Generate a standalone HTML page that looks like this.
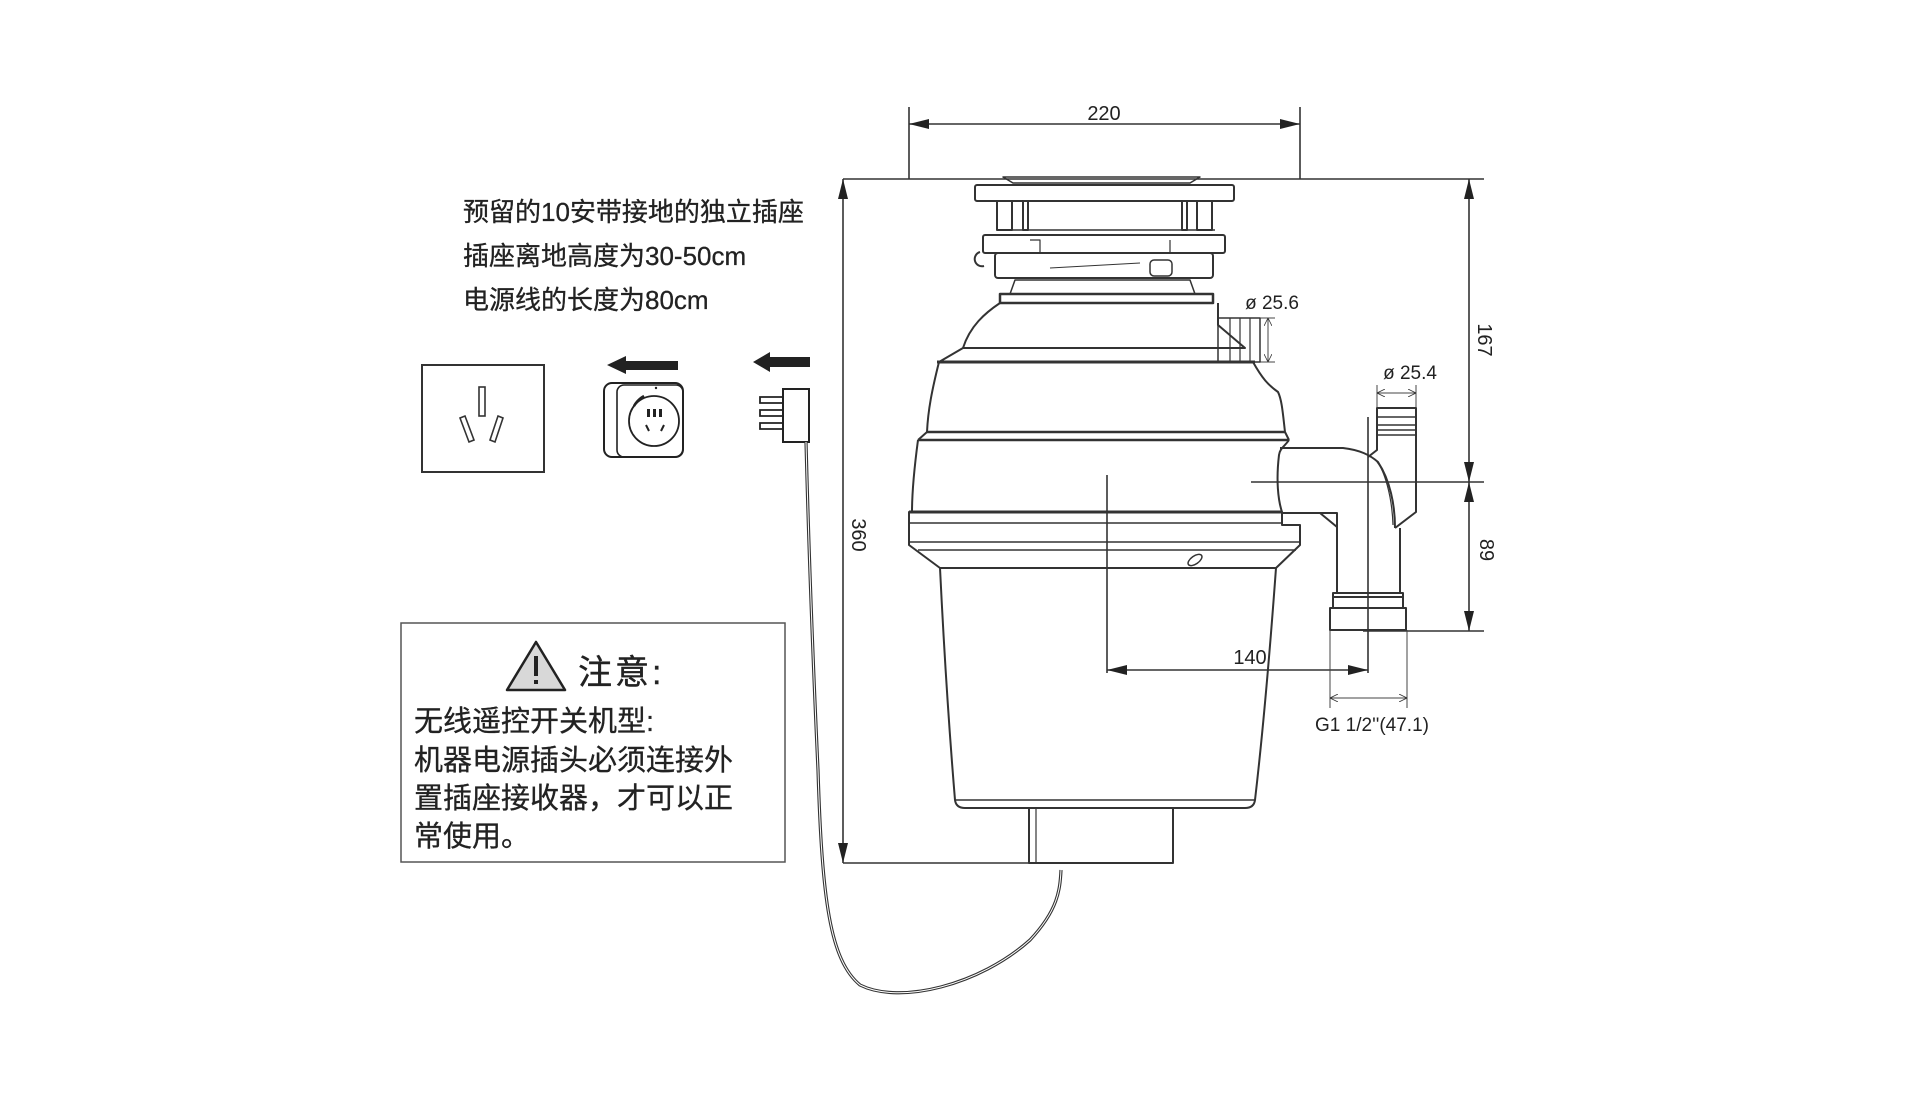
<!DOCTYPE html>
<html><head><meta charset="utf-8">
<style>
html,body{margin:0;padding:0;background:#fff;}
body{width:1920px;height:1094px;overflow:hidden;}
svg{display:block;}
.t{font-family:"Liberation Sans","Noto Sans CJK SC",sans-serif;fill:#222;}
</style></head>
<body>
<svg width="1920" height="1094" viewBox="0 0 1920 1094" xmlns="http://www.w3.org/2000/svg">
<defs>
<marker id="ar" viewBox="0 0 20 10" refX="20" refY="5" markerWidth="20" markerHeight="10" markerUnits="userSpaceOnUse" orient="auto-start-reverse">
<path d="M0,0 L20,5 L0,10 Z" fill="#222"/></marker>
<marker id="sa" viewBox="0 0 10 10" refX="10" refY="5" markerWidth="8" markerHeight="8" markerUnits="userSpaceOnUse" orient="auto-start-reverse">
<path d="M0,0 L10,5 L0,10" fill="none" stroke="#333" stroke-width="1"/></marker>
</defs>

<!-- Top-left text -->
<text class="t" x="463" y="221" font-size="26" stroke="#222" stroke-width="0.3">预留的10安带接地的独立插座</text>
<text class="t" x="463" y="265" font-size="26" stroke="#222" stroke-width="0.3">插座离地高度为30-50cm</text>
<text class="t" x="463" y="309" font-size="26" stroke="#222" stroke-width="0.3">电源线的长度为80cm</text>

<!-- socket -->
<rect x="422" y="365" width="122" height="107" fill="none" stroke="#333" stroke-width="2"/>
<rect x="479" y="387" width="6" height="29" fill="none" stroke="#333" stroke-width="1.6"/>
<path d="M460,418 l5,-2 l9,24 l-5,2 Z M498,416 l5,2 l-8,24 l-5,-2 Z" fill="none" stroke="#333" stroke-width="1.6"/>

<!-- arrows -->
<path d="M607,365 L626,356 L626,361 L678,361 L678,370 L626,370 L626,374 Z" fill="#222"/>
<path d="M753,362 L770,352 L770,357 L810,357 L810,367 L770,367 L770,372 Z" fill="#222"/>

<!-- smart plug -->
<rect x="604" y="383" width="79" height="74" rx="8" fill="none" stroke="#222" stroke-width="2"/>
<rect x="617" y="385" width="66" height="72" rx="7" fill="none" stroke="#222" stroke-width="1.6"/>
<circle cx="654" cy="421" r="25" fill="none" stroke="#222" stroke-width="1.8"/>
<path d="M634,406 A26,26 0 0 1 644,396" fill="none" stroke="#222" stroke-width="2.5"/>
<rect x="647" y="409" width="3" height="8" fill="#222"/><rect x="653" y="409" width="3" height="8" fill="#222"/><rect x="659" y="409" width="3" height="8" fill="#222"/>
<path d="M646,425 l3,6 M664,425 l-3,6" stroke="#222" stroke-width="2"/>
<circle cx="656" cy="388" r="1.2" fill="#222"/>

<!-- plug -->
<rect x="783" y="389" width="26" height="53" fill="#fff" stroke="#222" stroke-width="2"/>
<path d="M783,397 H760 V403 H783 M783,410 H760 V416 H783 M783,423 H760 V429 H783" fill="none" stroke="#222" stroke-width="1.8"/>
<!-- cord -->
<path d="M806,442 C808,520 812,640 818,770 C822,900 830,960 860,985 C900,1005 980,985 1030,940 C1058,910 1060,890 1061,870" fill="none" stroke="#333" stroke-width="3.2"/>
<path d="M806,442 C808,520 812,640 818,770 C822,900 830,960 860,985 C900,1005 980,985 1030,940 C1058,910 1060,890 1061,870" fill="none" stroke="#fff" stroke-width="1"/>

<!-- warning box -->
<rect x="401" y="623" width="384" height="239" fill="none" stroke="#555" stroke-width="1.5"/>
<path d="M536,642 L565,690 L507,690 Z" fill="#d8d8d8" stroke="#222" stroke-width="2.5" stroke-linejoin="round"/>
<rect x="534" y="656" width="4" height="20" fill="#222"/><rect x="534" y="680" width="4" height="4" fill="#222"/>
<text class="t" x="578" y="684" font-size="34" letter-spacing="3" stroke="#222" stroke-width="0.4">注意:</text>
<text class="t" x="414" y="731" font-size="29" stroke="#222" stroke-width="0.3">无线遥控开关机型:</text>
<text class="t" x="414" y="770" font-size="29" stroke="#222" stroke-width="0.3">机器电源插头必须连接外</text>
<text class="t" x="414" y="808" font-size="29" stroke="#222" stroke-width="0.3">置插座接收器，才可以正</text>
<text class="t" x="414" y="846" font-size="29" stroke="#222" stroke-width="0.3">常使用。</text>

<!-- dimension lines -->
<g stroke="#333" stroke-width="1.6" fill="none">
<line x1="909" y1="107" x2="909" y2="179"/>
<line x1="1300" y1="107" x2="1300" y2="179"/>
<line x1="909" y1="124" x2="1300" y2="124" marker-start="url(#ar)" marker-end="url(#ar)"/>
<line x1="843" y1="179" x2="1484" y2="179"/>
<line x1="843" y1="179" x2="843" y2="863" marker-start="url(#ar)" marker-end="url(#ar)"/>
<line x1="843" y1="863" x2="1173" y2="863"/>
<line x1="1469" y1="179" x2="1469" y2="482" marker-start="url(#ar)" marker-end="url(#ar)"/>
<line x1="1251" y1="482" x2="1484" y2="482"/>
<line x1="1469" y1="482" x2="1469" y2="631" marker-start="url(#ar)" marker-end="url(#ar)"/>
<line x1="1363" y1="631" x2="1484" y2="631"/>
<line x1="1107" y1="475" x2="1107" y2="673"/>
<line x1="1107" y1="670" x2="1368" y2="670" marker-start="url(#ar)" marker-end="url(#ar)"/>
<line x1="1368" y1="417" x2="1368" y2="673"/>
</g>
<g stroke="#444" stroke-width="1" fill="none">
<line x1="1250" y1="318" x2="1275" y2="318"/><line x1="1250" y1="362" x2="1275" y2="362"/>
<line x1="1268" y1="318" x2="1268" y2="362" marker-start="url(#sa)" marker-end="url(#sa)"/>
<line x1="1377" y1="385" x2="1377" y2="408"/><line x1="1416" y1="385" x2="1416" y2="408"/>
<line x1="1377" y1="393" x2="1416" y2="393" marker-start="url(#sa)" marker-end="url(#sa)"/>
<line x1="1330" y1="630" x2="1330" y2="708"/><line x1="1407" y1="630" x2="1407" y2="708"/>
<line x1="1330" y1="698" x2="1407" y2="698" marker-start="url(#sa)" marker-end="url(#sa)"/>
</g>
<text class="t" x="1104" y="120" font-size="20" text-anchor="middle">220</text>
<text class="t" transform="translate(852,535) rotate(90)" font-size="20" text-anchor="middle">360</text>
<text class="t" transform="translate(1478,340) rotate(90)" font-size="20" text-anchor="middle">167</text>
<text class="t" transform="translate(1480,550) rotate(90)" font-size="20" text-anchor="middle">89</text>
<text class="t" x="1250" y="664" font-size="20" text-anchor="middle">140</text>
<text class="t" x="1272" y="309" font-size="19" text-anchor="middle">ø 25.6</text>
<text class="t" x="1410" y="379" font-size="19" text-anchor="middle">ø 25.4</text>
<text class="t" x="1372" y="731" font-size="19" text-anchor="middle">G1 1/2''(47.1)</text>

<!-- disposer body -->
<g stroke="#333" stroke-width="2" fill="none" stroke-linejoin="round">
<path d="M1003,177 L1200,177 L1190,183 L1013,183 Z" stroke-width="1.5"/>
<rect x="975" y="185" width="259" height="16" rx="2"/>
<rect x="997" y="201" width="15" height="29"/><rect x="1023" y="201" width="5" height="29"/>
<rect x="1182" y="201" width="5" height="29"/><rect x="1197" y="201" width="15" height="29"/>
<path d="M1000,230 H1215" stroke-width="1.5"/>
<rect x="983" y="235" width="242" height="18" rx="2"/>
<rect x="995" y="253" width="218" height="25" rx="3"/>
<path d="M1040,253 V240 H1030 M1170,253 V240" stroke-width="1.2"/>
<path d="M1050,268 L1140,263" stroke-width="1"/>
<rect x="1150" y="260" width="22" height="16" rx="4" stroke-width="1.5"/>
<path d="M980,252 a6,6 0 0 0 4,14" stroke-width="2"/>
<path d="M1015,280 L1190,280 L1195,294 L1010,294 Z" stroke-width="1.5"/>
<path d="M1000,294 H1213 V303 H1000 Z" stroke-width="2.5"/>
<path d="M1000,303 C985,313 970,326 963,348 H1245 L1218,325 V303"/>
<rect x="1218" y="318" width="42" height="44" stroke-width="1.5"/>
<path d="M1230,318 V362 M1240,318 V362 M1250,318 V362" stroke-width="1.2"/>
<path d="M963,348 L939,362 H1253" />
<line x1="937" y1="362" x2="1255" y2="362" stroke-width="3"/>
<path d="M939,362 C932,390 928,410 927,432 M1253,362 C1262,378 1268,385 1278,392 C1282,400 1283,415 1285,432"/>
<path d="M927,432 H1285 M918,440 H1289" stroke-width="2.5"/>
<path d="M927,432 L918,440 M1285,432 L1289,440"/>
<path d="M918,440 C914,470 912,495 912,512 M1289,440 C1285,446 1280,448 1279,455 C1276,480 1278,500 1282,512"/>
<path d="M909,512 H1282 V525 H1300 V545 L1276,568 H940 L909,545 Z"/>
<path d="M909,523 H1282 M909,542 H1300 M918,550 H1296" stroke-width="1.5"/>
<line x1="909" y1="512" x2="1282" y2="512" stroke-width="3"/>
<ellipse cx="1195" cy="560" rx="8" ry="4" transform="rotate(-35 1195 560)" stroke-width="1.5"/>
<path d="M940,568 C944,650 950,740 955,800 Q956,808 965,808 H1245 Q1254,808 1255,800 C1262,740 1270,650 1276,568"/>
<line x1="955" y1="800" x2="1255" y2="800" stroke-width="1.5"/>
<rect x="1029" y="808" width="144" height="55"/>
<line x1="1036" y1="808" x2="1036" y2="863" stroke-width="1.2"/>
<!-- drain elbow -->
<path d="M1280,448 H1343 C1360,450 1370,455 1378,462 C1390,480 1395,505 1395,528"/>
<path d="M1377,462 C1384,470 1392,495 1393,525" stroke-width="1.2"/>
<path d="M1368,457 L1377,450 V408 H1416 V512 L1395,528"/>
<path d="M1377,417 H1416 M1377,425 H1416 M1377,430 H1416 M1377,435 H1416" stroke-width="1.5"/>
<path d="M1282,513 H1337 V593 M1320,513 L1337,527 M1400,528 V593" />
<path d="M1333,593 H1403 V608 H1333 Z M1333,597 H1403" stroke-width="2"/>
<rect x="1330" y="608" width="76" height="22"/>
</g>
</svg>
</body></html>
